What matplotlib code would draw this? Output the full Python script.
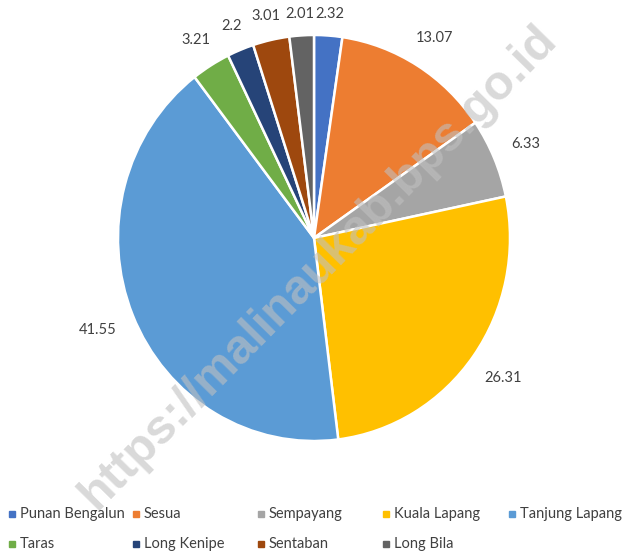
import numpy as np
import matplotlib
matplotlib.use('Agg')
import matplotlib.pyplot as plt
from matplotlib.patches import Rectangle

# data
kecamatan = ['Punan Bengalun', 'Sesua', 'Sempayang', 'Kuala Lapang', 'Tanjung Lapang',
             'Taras', 'Long Kenipe', 'Sentaban', 'Long Bila']
persen = [2.32, 13.07, 6.33, 26.31, 41.55, 3.21, 2.2, 3.01, 2.01]
labels = ['2.32', '13.07', '6.33', '26.31', '41.55', '3.21', '2.2', '3.01', '2.01']
warna = ['#4472C4', '#ED7D31', '#A5A5A5', '#FFC000', '#5B9BD5',
         '#70AD47', '#264478', '#9E480E', '#636363']

plt.rcParams['font.family'] = ['Lato', 'DejaVu Sans']

W, H = 626, 555
fig = plt.figure(figsize=(W/100, H/100), dpi=100)

# pie centre ~(314,238) px, slightly squeezed like the source image
cx, cy, rx, ry = 314, 238, 196, 203
ax = fig.add_axes([(cx-rx)/W, (H-cy-ry)/H, 2*rx/W, 2*ry/H])
wedges, _ = ax.pie(persen, colors=warna, startangle=90, counterclock=False,
                   wedgeprops=dict(edgecolor='white', linewidth=1.8))
ax.set_xlim(-1, 1)
ax.set_ylim(-1, 1)
ax.set_aspect('auto')
ax.axis('off')

# data labels outside end
tot = float(np.sum(persen))
cum = 0.0
for v, lab in zip(persen, labels):
    mid = (cum + v/2) / tot
    cum += v
    th = np.deg2rad(90 - 360*mid)
    hw = 0.045*len(lab)/2 + 0.01
    d = 1.07 + hw*abs(np.cos(th)) + 0.03*abs(np.sin(th))
    ax.text(d*np.cos(th), d*np.sin(th), lab, ha='center', va='center',
            fontsize=10.5, color='#404040', clip_on=False)

# watermark
fig.text(318/W, 1-267/H, 'https://malinaukab.bps.go.id', rotation=45.5,
         ha='center', va='center', fontsize=35, fontweight='bold',
         color='#c0c0c0', alpha=0.6, family='Liberation Sans')

# legend, equal column widths like excel
col_x = [9, 133, 258, 383, 509]
row_y = [514, 544]
for i, (nm, c) in enumerate(zip(kecamatan, warna)):
    x = col_x[i % 5]
    y = row_y[i // 5]
    fig.add_artist(Rectangle(((x)/W, 1-(y+3)/H), 6/W, 6/H, color=c,
                             transform=fig.transFigure))
    fig.text((x+11)/W, 1-y/H, nm, ha='left', va='center', fontsize=10.5,
             color='#404040')

fig.savefig('out.png', dpi=100)
